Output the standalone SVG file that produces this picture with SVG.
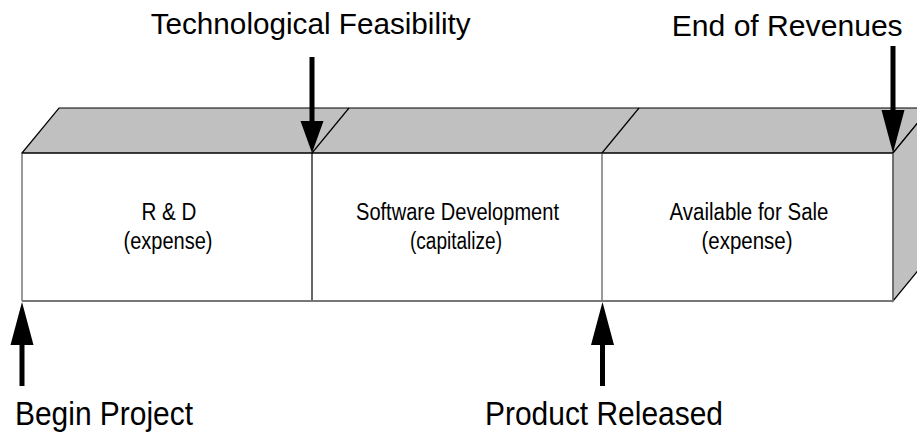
<svg xmlns="http://www.w3.org/2000/svg" width="917" height="432" viewBox="0 0 917 432">
<style>
.face{fill:#c0c0c0;stroke:#000;stroke-width:1.2;stroke-linejoin:miter}
.edge{stroke:#000;stroke-width:1.2;fill:none}
.gray{stroke:#777;stroke-width:1.5;fill:none}
.front{fill:#fff;stroke:none}
.lbl{font-family:"Liberation Sans",Arial,sans-serif;font-size:23.5px;fill:#000;text-anchor:middle}
.big{font-family:"Liberation Sans",Arial,sans-serif;fill:#000}
.shaft{stroke:#000;stroke-width:5;fill:none}
.head{fill:#000;stroke:none}
</style>
<rect width="917" height="432" fill="#fff"/>
<g id="box-rd">
<rect class="front" x="22" y="153" width="290" height="148"/>
<text class="lbl" x="169" y="219.5" textLength="55" lengthAdjust="spacingAndGlyphs">R &amp; D</text>
<text class="lbl" x="168" y="248.5" textLength="89" lengthAdjust="spacingAndGlyphs">(expense)</text>
</g>
<g id="box-dev">
<rect class="front" x="312" y="153" width="290" height="148"/>
<text class="lbl" x="457.5" y="219.5" textLength="203" lengthAdjust="spacingAndGlyphs">Software Development</text>
<text class="lbl" x="456" y="248.5" textLength="92" lengthAdjust="spacingAndGlyphs">(capitalize)</text>
</g>
<g id="box-sale">
<rect class="front" x="602" y="153" width="291" height="148"/>
<text class="lbl" x="749" y="219.5" textLength="159" lengthAdjust="spacingAndGlyphs">Available for Sale</text>
<text class="lbl" x="747" y="248.5" textLength="91" lengthAdjust="spacingAndGlyphs">(expense)</text>
</g>
<g id="faces">
<polygon class="face" points="22,153 59,108 930,108 893,153"/>
<polygon class="face" points="893,153 930,108 930,256 893,301"/>
<line class="edge" x1="312" y1="153" x2="349" y2="108"/>
<line class="edge" x1="602" y1="153" x2="639" y2="108"/>
<line class="edge" x1="312" y1="153" x2="312" y2="301"/>
<line class="gray" x1="602" y1="153" x2="602" y2="301"/>
<line class="gray" x1="22" y1="153" x2="22" y2="301"/>
<line class="gray" x1="893" y1="153" x2="893" y2="301"/>
<line class="gray" x1="22" y1="301" x2="893" y2="301" style="stroke-width:2"/>
<line class="edge" x1="22" y1="153" x2="893" y2="153"/>
</g>
<g id="connectors">
<line class="shaft" x1="312" y1="57" x2="312" y2="122"/>
<polygon class="head" points="300.5,121 323.5,121 312,153"/>
<line class="shaft" x1="893" y1="46" x2="893" y2="111"/>
<polygon class="head" points="881.5,110 904.5,110 893,153"/>
<line class="shaft" x1="22" y1="386" x2="22" y2="344"/>
<polygon class="head" points="10.5,345 33.5,345 22,302"/>
<line class="shaft" x1="602.5" y1="386" x2="602.5" y2="344"/>
<polygon class="head" points="591,345 614,345 602.5,302"/>
</g>
<g id="label-tech"><text class="big" x="150.7" y="33.5" font-size="29.5" textLength="320" lengthAdjust="spacingAndGlyphs">Technological Feasibility</text></g>
<g id="label-end"><text class="big" x="671.7" y="35.5" font-size="29.5" textLength="231" lengthAdjust="spacingAndGlyphs">End of Revenues</text></g>
<g id="label-begin"><text class="big" x="15" y="425" font-size="33" textLength="178" lengthAdjust="spacingAndGlyphs">Begin Project</text></g>
<g id="label-released"><text class="big" x="485" y="425" font-size="33" textLength="238" lengthAdjust="spacingAndGlyphs">Product Released</text></g>
</svg>
